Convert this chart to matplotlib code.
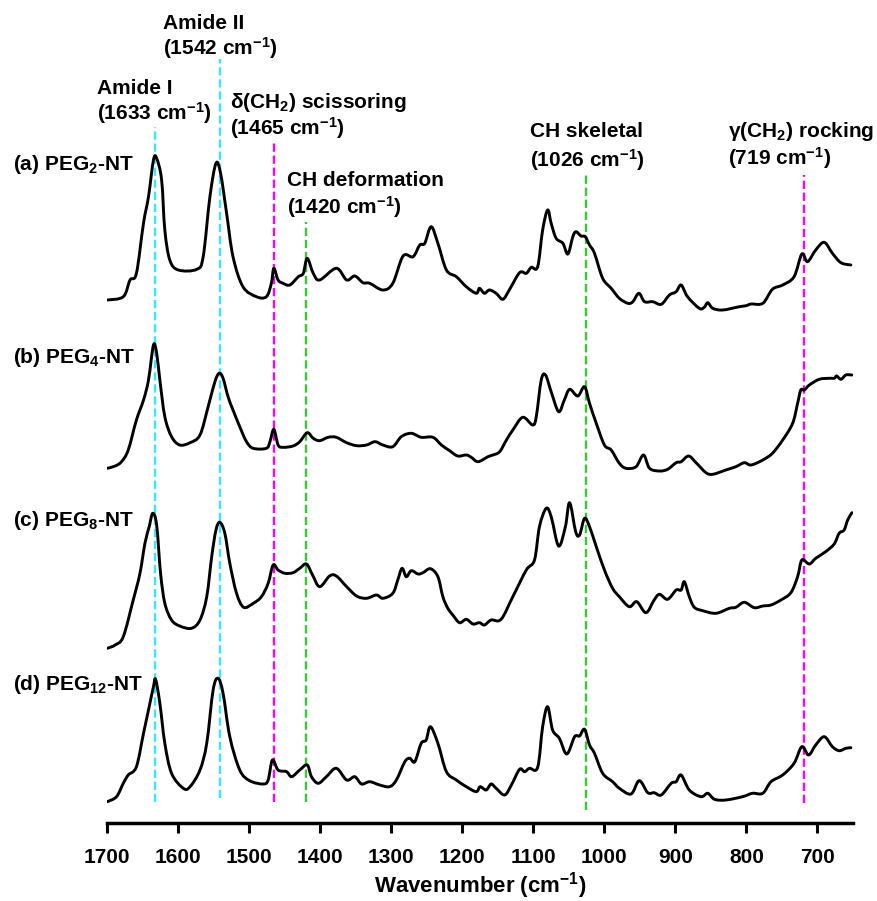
import numpy as np
import matplotlib
matplotlib.use('Agg')
import matplotlib.pyplot as plt
from matplotlib.path import Path
from matplotlib.patches import PathPatch

plt.rcParams['font.family'] = ['Liberation Sans', 'DejaVu Sans']
plt.rcParams['font.weight'] = 'bold'
plt.rcParams['mathtext.fontset'] = 'custom'
plt.rcParams['mathtext.rm'] = 'Liberation Sans:bold'
plt.rcParams['mathtext.bf'] = 'Liberation Sans:bold'
plt.rcParams['mathtext.it'] = 'Liberation Sans:bold'
plt.rcParams['mathtext.default'] = 'bf'

# ---- spectra (wavenumber, relative absorbance in a.u.) ----
wn_a = [1700, 1677.5, 1668, 1659, 1649, 1642, 1635, 1630.5, 1623.5, 1619, 1612, 1600, 1574, 1565,
        1555.5, 1547, 1540.5, 1532, 1523, 1509, 1490, 1476, 1469, 1465.5, 1459.5, 1452.5, 1443, 1431,
        1424, 1418.5, 1410, 1401, 1377.5, 1363, 1351.5, 1340, 1330.5, 1312, 1298, 1283.5, 1269.5, 1260,
        1253, 1244, 1234.5, 1222.5, 1208.5, 1194.5, 1180.5, 1176, 1169, 1162, 1152.5, 1143, 1134, 1119.5,
        1110, 1103, 1094, 1087, 1080, 1075, 1068, 1058.5, 1051.5, 1044.5, 1040, 1033, 1027, 1021, 1014,
        1002.5, 990.5, 979, 967, 960, 951.5, 943.5, 932, 920, 908.5, 899, 892, 883, 866.5, 859.5, 854.5,
        847.5, 833.5, 810, 800.5, 793.5, 777, 763.5, 749, 733, 722, 714, 702.5, 690.5, 679, 667, 653]
abs_a = [0, 3.3, 20, 26.7, 77, 103.3, 140, 141.7, 120, 70, 40, 30, 30.7, 43.3,
         103.3, 136.7, 126.7, 86.7, 43.3, 13.3, 3.3, 3.3, 16.7, 31.7, 20, 16.7, 15, 23.3,
         26.7, 41.7, 26.7, 20, 31.7, 20, 24, 17.3, 16.7, 10, 16.7, 44, 43.3, 55,
         56.7, 73.3, 56.7, 30, 23.3, 13.3, 6.7, 11.7, 6.7, 10, 6.7, 0.7, 10, 27.3,
         26.7, 32.7, 33.3, 70, 90, 76.7, 61.7, 56.7, 46, 63.3, 68.3, 64, 63.3, 55, 46.7,
         21.7, 11.7, 1.7, -3.3, -1.7, 6.7, -1.7, -1.7, -4.3, 5, 8.3, 15, 3.3, -8.3, -7.3, -2.7,
         -8.3, -10, -6.7, -5.7, -4, -3.3, 10.7, 15, 23.3, 46, 38.3, 50, 57.7, 46.7, 37.3, 35]

wn_b = [1700, 1689, 1680, 1670.5, 1659, 1649, 1642, 1635, 1630.5, 1626, 1619, 1609.5, 1598, 1583.5,
        1569.5, 1558, 1548.5, 1542.5, 1537, 1530, 1523, 1513.5, 1504, 1494.5, 1476, 1471, 1465.5,
        1459.5, 1452.5, 1438.5, 1429, 1418.5, 1410, 1401, 1389, 1377.5, 1363, 1349, 1335, 1323, 1312,
        1298, 1286, 1272, 1258, 1241.5, 1229.5, 1218, 1206.5, 1194.5, 1187.5, 1178, 1164, 1157, 1147.5,
        1138, 1129, 1115, 1101, 1096, 1089, 1083, 1075, 1064.5, 1056.5, 1049, 1037.5, 1028, 1021,
        1011.5, 1000, 990.5, 979, 969.5, 955.5, 945, 936.5, 922.5, 911, 899, 892, 881.5, 871, 857,
        847.5, 829, 815, 803, 793.5, 777, 763.5, 749, 735, 728, 723.5, 718.5, 711.5, 697.5, 683.5,
        676.5, 673, 667, 660, 651.5]
abs_b = [0, 2.3, 6.6, 18.3, 48.3, 68.3, 88.3, 123.3, 115, 88.3, 51.6, 31.6, 23.3, 25.6,
         33.3, 61.6, 86.6, 95, 90, 71.6, 58.3, 41.6, 26.6, 20, 20, 26.6, 39,
         23.3, 21, 22.3, 26.6, 35.6, 30, 27.6, 31, 31, 25.6, 22.6, 23.3, 26.6, 23.3,
         21.6, 31.6, 35, 31, 31, 23.3, 17.6, 12.3, 13.3, 11, 6.6, 11.6, 13.3, 16.6,
         28.3, 38.3, 51, 43.3, 51.6, 88.3, 93.3, 76.6, 56.6, 68.3, 79, 72.3, 81.6, 65,
         45, 23.3, 18.3, 5, 0, 1.6, 13.3, 0, -2.7, -1, 5.6, 6.6, 12.3, 5.6, -4.4,
         -6, -1.7, 1.6, 5.6, 3.3, 8.3, 15, 28.3, 45, 65, 78.3, 78.3, 83.3, 89, 90,
         90, 92.3, 89, 93.3, 93.3]

wn_c = [1700, 1689, 1677.5, 1663.5, 1654, 1647, 1641, 1636, 1630.5, 1625, 1619, 1609.5, 1598, 1581.5,
        1569.5, 1560, 1553, 1547, 1541.5, 1534.5, 1527.5, 1518, 1508, 1494.5, 1483, 1473.5, 1466.5,
        1459.5, 1450, 1438.5, 1429, 1419.5, 1411, 1401, 1387, 1377.5, 1363, 1349, 1335, 1321, 1312,
        1298, 1291, 1285, 1279, 1272, 1262.5, 1255.5, 1245, 1234.5, 1227.5, 1220.5, 1213.5, 1204,
        1194.5, 1185, 1176, 1169, 1159.5, 1145.5, 1129, 1110, 1098.5, 1091.5, 1082, 1075, 1064.5,
        1055, 1049, 1040.5, 1035, 1028, 1021, 1011.5, 1000, 988.5, 979, 965, 954.5, 941.5, 930, 922.5,
        911, 899, 892, 887.5, 880.5, 873.5, 861.5, 843, 824, 815, 803, 789, 777, 765.5, 751.5, 737.5,
        728, 722, 711.5, 702.5, 688.5, 676.5, 669.5, 662.5, 657.5, 651.5]
abs_c = [0, 3.3, 11.6, 48.3, 75, 105, 121.6, 135, 123.3, 75, 45, 28.3, 22.3, 20,
         28.3, 51.6, 91.6, 118.3, 126, 115, 85, 55, 41, 45, 51.6, 65, 83.3,
         78.3, 75, 75.6, 80, 84.3, 73.3, 61.6, 72.3, 72.3, 61.6, 52.3, 50, 53.3, 50,
         55, 68.3, 80, 71.6, 77.6, 74.3, 75.6, 79.6, 71.6, 51.6, 40, 33.3, 25.6,
         29, 24.3, 25.6, 23.3, 28.3, 29, 51.6, 78.3, 88.3, 121.6, 140, 131.6, 102.3,
         121.6, 145.6, 116.6, 113.3, 130, 121.6, 101.6, 78.3, 60, 51.6, 41.6, 46.6, 35.6, 48.3, 54,
         49, 58.3, 58.3, 66.6, 51.6, 41, 37.6, 35, 40, 41, 46, 40.6, 42.3, 43.3, 48.3, 55.6,
         71.6, 88.3, 84.3, 90, 96.6, 104.3, 115, 118.3, 128.3, 135.6]

wn_d = [1700, 1687, 1677.5, 1670.5, 1659, 1649, 1642, 1635, 1632, 1626, 1619, 1609.5, 1593, 1583.5,
        1569.5, 1560, 1551, 1544, 1537, 1527.5, 1513.5, 1499.5, 1480.5, 1473.5, 1467.5, 1459.5, 1447.5,
        1440.5, 1429, 1418.5, 1412.5, 1403, 1391.5, 1377.5, 1363, 1351.5, 1342, 1330.5, 1316.5, 1302.5,
        1293, 1281, 1274, 1267, 1258, 1251, 1245, 1234.5, 1222.5, 1208.5, 1194.5, 1180.5, 1175, 1166.5,
        1159.5, 1152.5, 1140.5, 1131, 1119.5, 1112.5, 1105.5, 1094, 1087, 1080, 1073, 1063.5, 1053,
        1042, 1035, 1028, 1021, 1014, 1002.5, 988.5, 979, 962.5, 951, 939, 930, 920, 906, 899, 892,
        880.5, 864, 854.5, 845, 829, 805.5, 791.5, 777, 765.5, 749, 733, 722, 712.5, 702.5, 690.5,
        679, 669.5, 660, 653]
abs_d = [0, 5, 18.4, 26.7, 35, 68.4, 91.7, 115, 122.4, 98.4, 58.4, 28.4, 13.4, 15,
         31.7, 58.4, 111.7, 123.4, 108.4, 65, 31.7, 21, 17.7, 21.7, 41.7, 31.7, 30,
         25, 31.7, 36.7, 25, 18.4, 25, 33.4, 21.7, 25, 17.7, 20, 16.7, 15,
         21.7, 40, 43.4, 40, 58.4, 61.7, 75, 58.4, 30, 21.7, 15, 10, 15, 11.7,
         17.7, 13.4, 6.7, 16.7, 32.4, 30, 33.4, 34.4, 75, 95, 71.7, 63.4, 47.7,
         65, 65.7, 72.4, 56.7, 48.4, 28.4, 20, 13.4, 7.7, 21, 9, 9, 6.7, 18.4, 20, 26.7,
         11.7, 5, 8.4, 2.4, 1.7, 5, 8.4, 8.4, 20, 26.7, 38.4, 55, 46.7, 56.7, 65,
         55, 51, 53.4, 54]

samples = [r'(a) PEG$_2$-NT', r'(b) PEG$_4$-NT', r'(c) PEG$_8$-NT', r'(d) PEG$_{12}$-NT']
spectra = [(wn_a, abs_a), (wn_b, abs_b), (wn_c, abs_c), (wn_d, abs_d)]
offsets = [523, 354.7, 174.7, 21.3]
label_y = [658, 465, 303, 138]

# ---- band assignments ----
band_wn = [1633, 1542, 1465, 1420, 1026, 719]
band_name = ['Amide I', 'Amide II', r'$\delta$(CH$_2$) scissoring', 'CH deformation',
             'CH skeletal', r'$\gamma$(CH$_2$) rocking']
band_color = ['#33E8FF', '#33E8FF', '#FF00FF', '#33CC33', '#33CC33', '#FF00FF']
line_top = [696, 764, 681, 601, 650, 648]
line_bot = [21, 25, 21, 21, 13, 20]
name_pos = [(1715, 735), (1621.5, 800), (1527, 721), (1447.5, 643), (1105.5, 692), (826.5, 692)]
wn_y = [710, 775, 695, 616, 663, 665]


def smooth_path(x, y):
    # Catmull-Rom curve through the points, drawn as cubic Bezier segments
    p = np.column_stack([x, y]).astype(float)
    ext = np.vstack([p[0], p, p[-1]])
    verts = [p[0]]
    codes = [Path.MOVETO]
    for i in range(1, len(ext) - 2):
        p0, p1, p2, p3 = ext[i - 1], ext[i], ext[i + 1], ext[i + 2]
        verts += [p1 + (p2 - p0) / 6.0, p2 - (p3 - p1) / 6.0, p2]
        codes += [Path.CURVE4] * 3
    return Path(verts, codes)


fig = plt.figure(figsize=(8.77, 9.01), dpi=100)
ax = fig.add_axes([107.3 / 877, 1 - 823 / 901, (853 - 107.3) / 877, 823 / 901])
ax.set_xlim(1700, 650)
ax.set_ylim(0, 823)

for i in range(len(band_wn)):
    ax.plot([band_wn[i], band_wn[i]], [line_bot[i], line_top[i]], color=band_color[i],
            lw=1.7, dashes=(3.5, 1.6), zorder=1)

for (wn, ab), off in zip(spectra, offsets):
    path = smooth_path(wn, np.array(ab) + off)
    ax.add_patch(PathPatch(path, facecolor='none', edgecolor='black', lw=2.1,
                           joinstyle='round', capstyle='round', zorder=2))

for name, y in zip(samples, label_y):
    fig.text(13 / 877, 1 - (823 - y) / 901, name, fontsize=15, fontweight='bold',
             va='center', ha='left')

for i in range(len(band_wn)):
    x0, y0 = name_pos[i]
    ax.text(x0, y0, band_name[i], fontsize=15, fontweight='bold', va='center', ha='left',
            clip_on=False)
    ax.text(x0, wn_y[i], '(%d cm$^{-1}$)' % band_wn[i], fontsize=15, fontweight='bold',
            va='center', ha='left', clip_on=False)

for s in ['left', 'right', 'top']:
    ax.spines[s].set_visible(False)
ax.spines['bottom'].set_linewidth(2.5)
ax.set_yticks([])
ax.set_xticks(np.arange(1700, 650, -100))
ax.tick_params(axis='x', direction='out', length=7, width=2.2, pad=11, labelsize=15)
for t in ax.get_xticklabels():
    t.set_fontweight('bold')
ax.set_xlabel('Wavenumber (cm$^{-1}$)', fontsize=16, fontweight='bold', labelpad=2)

fig.savefig('out.png', dpi=100)
